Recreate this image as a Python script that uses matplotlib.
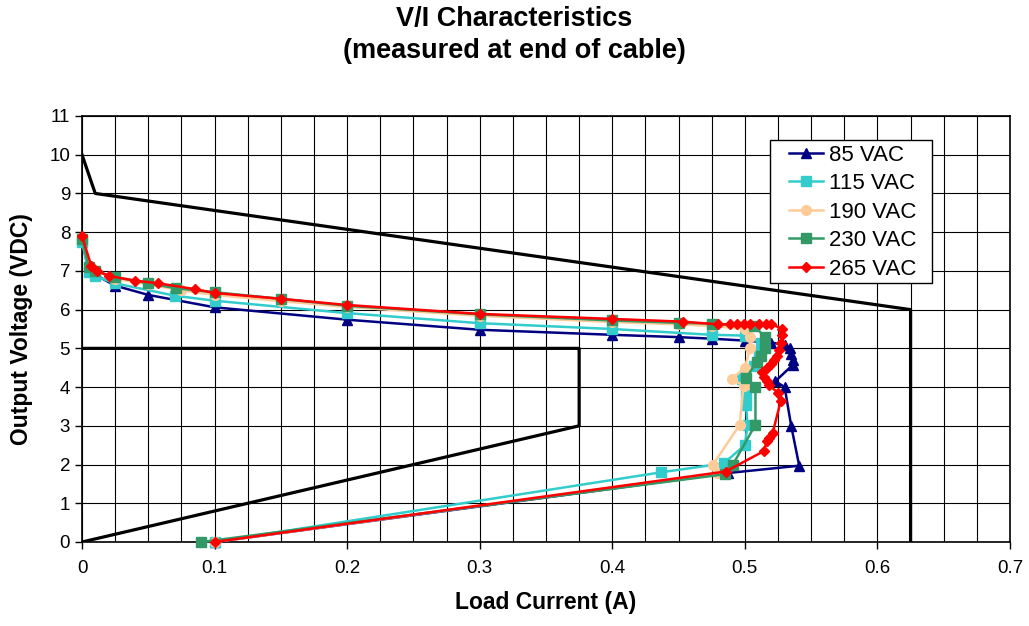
import numpy as np
import matplotlib
matplotlib.use("Agg")
import matplotlib.pyplot as plt
from matplotlib.ticker import MultipleLocator
from matplotlib.patches import Rectangle

plt.rcParams['font.family'] = ['Liberation Sans', 'DejaVu Sans']

# Mesures (courant en A, tension en VDC)
x_85 = [0, 0.005, 0.01, 0.025, 0.05, 0.1, 0.2, 0.3, 0.4, 0.45, 0.475, 0.5, 0.52, 0.53,
        0.534, 0.535, 0.536, 0.536, 0.523, 0.53, 0.535, 0.541, 0.487, 0.1]
y_85 = [7.8, 7.0, 6.9, 6.62, 6.38, 6.06, 5.74, 5.48, 5.35, 5.29, 5.25, 5.2, 5.15, 5.09,
        5.0, 4.85, 4.7, 4.57, 4.15, 4.0, 2.99, 1.97, 1.78, 0.0]

x_115 = [0, 0.005, 0.01, 0.025, 0.07, 0.1, 0.2, 0.3, 0.4, 0.475, 0.5, 0.512, 0.511, 0.507,
         0.5, 0.498, 0.501, 0.501, 0.502, 0.5, 0.484, 0.437, 0.1]
y_115 = [7.75, 6.98, 6.86, 6.68, 6.36, 6.23, 5.91, 5.65, 5.5, 5.35, 5.33, 5.15, 4.85, 4.55,
         4.3, 4.2, 3.8, 3.53, 3.02, 2.5, 2.03, 1.8, 0.0]

x_190 = [0, 0.005, 0.01, 0.025, 0.05, 0.075, 0.1, 0.15, 0.2, 0.3, 0.4, 0.45, 0.475, 0.5,
         0.504, 0.504, 0.5, 0.49, 0.499, 0.496, 0.476, 0.479, 0.1]
y_190 = [7.85, 7.1, 7.0, 6.8, 6.65, 6.5, 6.38, 6.22, 6.07, 5.84, 5.68, 5.62, 5.58, 5.5,
         5.3, 5.0, 4.5, 4.21, 4.04, 3.02, 2.0, 1.77, 0.0]

x_230 = [0, 0.005, 0.01, 0.025, 0.05, 0.071, 0.1, 0.15, 0.2, 0.3, 0.4, 0.45, 0.475, 0.507,
         0.515, 0.515, 0.512, 0.509, 0.501, 0.508, 0.508, 0.491, 0.485, 0.09]
y_230 = [7.82, 7.1, 7.0, 6.84, 6.68, 6.55, 6.45, 6.28, 6.1, 5.88, 5.72, 5.66, 5.64, 5.58,
         5.3, 5.0, 4.8, 4.66, 4.23, 4.0, 3.03, 2.0, 1.75, 0.0]

x_265 = [0, 0.007, 0.011, 0.02, 0.04, 0.0575, 0.085, 0.1, 0.15, 0.2, 0.3, 0.4, 0.453, 0.48,
         0.489, 0.494, 0.499, 0.504, 0.511, 0.516, 0.52, 0.528, 0.528, 0.527, 0.526, 0.524,
         0.522, 0.52, 0.517, 0.513, 0.5145, 0.517, 0.518, 0.525, 0.527, 0.521, 0.518, 0.5165,
         0.5145, 0.4855, 0.1]
y_265 = [7.9, 7.13, 7.01, 6.87, 6.75, 6.68, 6.53, 6.43, 6.28, 6.12, 5.89, 5.76, 5.69, 5.62,
         5.62, 5.62, 5.62, 5.62, 5.62, 5.62, 5.62, 5.51, 5.34, 5.13, 4.96, 4.79, 4.7, 4.59,
         4.49, 4.4, 4.27, 4.15, 4.06, 3.85, 3.63, 2.82, 2.69, 2.61, 2.35, 1.82, 0.0]

# Gabarit (limites)
lim_ext_x = [0, 0.01, 0.625, 0.625]
lim_ext_y = [10, 9, 6, 0]
lim_int_x = [0, 0.375, 0.375, 0]
lim_int_y = [5, 5, 3, 0]

graduations_x = [0, 0.1, 0.2, 0.3, 0.4, 0.5, 0.6, 0.7]
etiquettes_x = ["0", "0.1", "0.2", "0.3", "0.4", "0.5", "0.6", "0.7"]

series = [
    ("85 VAC", x_85, y_85, "#000080", "^", 6.5),
    ("115 VAC", x_115, y_115, "#33CCCC", "s", 7),
    ("190 VAC", x_190, y_190, "#FFCC99", "o", 7),
    ("230 VAC", x_230, y_230, "#339966", "s", 7),
    ("265 VAC", x_265, y_265, "#FF0000", "D", 5.5),
]

fig = plt.figure(figsize=(10.29, 6.26), dpi=100)
ax = fig.add_axes([82 / 1029, 1 - 542 / 626, 928 / 1029, 426 / 626])

ax.plot(lim_ext_x, lim_ext_y, color="black", lw=2.3, zorder=2)
ax.plot(lim_int_x, lim_int_y, color="black", lw=2.3, zorder=2)

for nom, xs, ys, couleur, marqueur, taille in series:
    ax.plot(xs, ys, color=couleur, marker=marqueur, markersize=taille, lw=1.8,
            label=nom, zorder=3, clip_on=False)

ax.set_xlim(0, 0.7)
ax.set_ylim(0, 11)
ax.set_xticks(graduations_x)
ax.set_xticklabels(etiquettes_x)
ax.xaxis.set_minor_locator(MultipleLocator(0.025))
ax.set_yticks(range(0, 12))
ax.grid(True, which="both", axis="x", color="black", lw=0.8, zorder=0)
ax.grid(True, which="major", axis="y", color="black", lw=0.8, zorder=0)
ax.tick_params(axis="x", which="minor", length=0)
ax.tick_params(axis="both", which="major", labelsize=13.5, direction="out", length=5, width=1)
ax.tick_params(axis="x", which="major", pad=8)
for s in ax.spines.values():
    s.set_linewidth(1.2)

ax.set_xlabel("Load Current (A)", fontsize=16.5, fontweight="bold", labelpad=10)
ax.set_ylabel("Output Voltage (VDC)", fontsize=16.5, fontweight="bold", labelpad=12)

fig.text(0.5, 1 - 19 / 626, "V/I Characteristics", ha="center", va="center",
         fontsize=19.5, fontweight="bold")
fig.text(0.5, 1 - 51 / 626, "(measured at end of cable)", ha="center", va="center",
         fontsize=19.5, fontweight="bold")

# cadre de la légende
cadre = Rectangle((0.7414, 0.608), 0.1745, 0.3357, transform=ax.transAxes,
                  facecolor="white", edgecolor="black", lw=1.0, zorder=4)
ax.add_patch(cadre)
leg = ax.legend(loc="upper left", bbox_to_anchor=(0.7618, 0.933), fontsize=16,
                frameon=False, borderaxespad=0, borderpad=0,
                handlelength=1.55, labelspacing=0.34, handletextpad=0.25)
leg.set_zorder(5)

fig.savefig("out.png", dpi=100)
